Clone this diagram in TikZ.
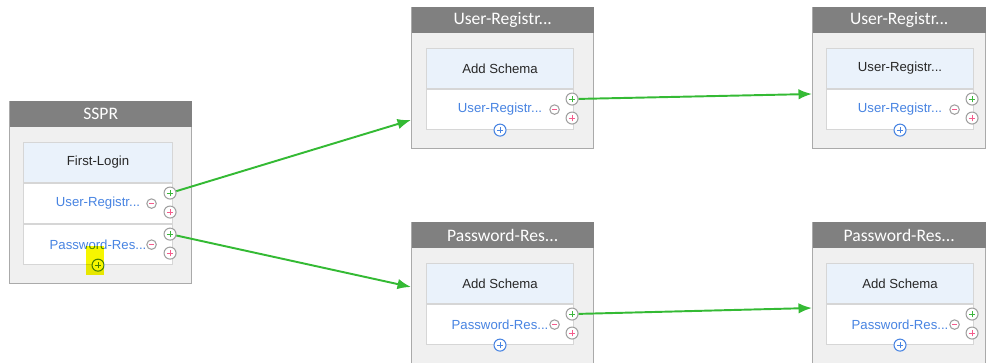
\documentclass[tikz,border=0pt]{standalone}
\usepackage{fontspec}
\setmainfont{Liberation Sans}
\newfontfamily\headfont{Carlito}
\usepackage{xcolor}
\usetikzlibrary{arrows.meta,positioning,calc}
\definecolor{headgray}{RGB}{128,128,128}
\definecolor{cardfill}{RGB}{240,240,240}
\definecolor{cardline}{RGB}{170,170,170}
\definecolor{rowline}{RGB}{214,214,214}
\definecolor{rowblue}{RGB}{234,242,251}
\definecolor{linkblue}{RGB}{72,132,226}
\definecolor{textdark}{RGB}{40,40,40}
\definecolor{flowgreen}{RGB}{52,186,52}
\definecolor{portring}{RGB}{160,160,160}
\definecolor{portgreen}{RGB}{60,182,60}
\definecolor{portpink}{RGB}{245,92,140}
\definecolor{hlyellow}{RGB}{246,246,0}

\begin{document}
\begin{tikzpicture}[
    >=Latex,
    card/.style={
        rectangle,
        draw=cardline,
        fill=cardfill,
        line width=0.8pt,
        anchor=north west,
        minimum width=3.64cm,
        inner sep=0pt
    },
    cardhead/.style={
        rectangle,
        fill=headgray,
        text=white,
        anchor=north,
        minimum width=3.64cm,
        minimum height=0.52cm,
        inner sep=0pt,
        font=\headfont\fontsize{10}{12}\selectfont
    },
    titlerow/.style={
        rectangle,
        draw=rowline,
        fill=rowblue,
        line width=0.6pt,
        anchor=north west,
        minimum width=2.94cm,
        minimum height=0.8cm,
        inner sep=0pt,
        text=textdark,
        font=\fontsize{7.5}{9}\selectfont
    },
    itemrow/.style={
        rectangle,
        draw=rowline,
        fill=white,
        line width=0.6pt,
        minimum width=2.94cm,
        minimum height=0.8cm,
        inner sep=0pt,
        text=linkblue,
        font=\fontsize{7.5}{9}\selectfont
    },
    plussign/.style={
        path picture={
            \draw[#1, line width=0.6pt]
                ([xshift=-0.065cm]path picture bounding box.center) --
                ([xshift=0.065cm]path picture bounding box.center);
            \draw[#1, line width=0.6pt]
                ([yshift=-0.065cm]path picture bounding box.center) --
                ([yshift=0.065cm]path picture bounding box.center);
        }
    },
    minussign/.style={
        path picture={
            \draw[#1, line width=0.6pt]
                ([xshift=-0.045cm]path picture bounding box.center) --
                ([xshift=0.045cm]path picture bounding box.center);
        }
    },
    port/.style={
        circle,
        draw=portring,
        fill=white,
        line width=0.6pt,
        minimum size=0.24cm,
        inner sep=0pt
    },
    outport/.style={port, plussign=portgreen},
    newport/.style={port, plussign=portpink},
    delport/.style={port, minimum size=0.19cm, minussign=portpink},
    childport/.style={port, draw=linkblue, plussign=linkblue},
    highlight/.style={
        fill=hlyellow,
        blend mode=multiply
    },
    flow/.style={
        -{Latex[length=0.27cm,width=0.21cm]},
        line width=1.1pt,
        draw=flowgreen
    }
]
\useasboundingbox (0,0) rectangle (19.74,7.24);
\clip (0,0) rectangle (19.74,7.24);

% SSPR
\node[card, minimum height=3.64cm] (sspr) at (0.18,5.22) {};
\node[cardhead] (sspr-head) at (sspr.north) {SSPR};
\node[titlerow, minimum width=2.98cm] (sspr-title) at ($(sspr.north west)+(0.28,-0.82)$) {First-Login};
\node[itemrow, minimum width=2.98cm, below=0pt of sspr-title] (sspr-ur) {User-Registr...};
\node[itemrow, minimum width=2.98cm, below=0pt of sspr-ur] (sspr-pr) {Password-Res...};
\node[outport] (sspr-ur-out) at ($(sspr-ur.north east)+(-0.06,-0.2)$) {};
\node[newport] (sspr-ur-new) at ($(sspr-ur.north east)+(-0.06,-0.58)$) {};
\node[delport] (sspr-ur-del) at ($(sspr-ur.east)+(-0.43,0)$) {};
\node[outport] (sspr-pr-out) at ($(sspr-pr.north east)+(-0.06,-0.2)$) {};
\node[newport] (sspr-pr-new) at ($(sspr-pr.north east)+(-0.06,-0.58)$) {};
\node[delport] (sspr-pr-del) at ($(sspr-pr.east)+(-0.43,0)$) {};
\node[childport] (sspr-child) at (sspr-pr.south) {};
\fill[highlight] ($(sspr-child)+(-0.24,-0.2)$) rectangle ($(sspr-child)+(0.12,0.38)$);

% User-Registr... (middle)
\node[card, minimum height=2.82cm] (ureg1) at (8.22,7.10) {};
\node[cardhead] (ureg1-head) at (ureg1.north) {User-Registr...};
\node[titlerow] (ureg1-title) at ($(ureg1.north west)+(0.30,-0.82)$) {Add Schema};
\node[itemrow, below=0pt of ureg1-title] (ureg1-ur) {User-Registr...};
\node[outport] (ureg1-ur-out) at ($(ureg1-ur.north east)+(-0.04,-0.2)$) {};
\node[newport] (ureg1-ur-new) at ($(ureg1-ur.north east)+(-0.04,-0.58)$) {};
\node[delport] (ureg1-ur-del) at ($(ureg1-ur.east)+(-0.39,0)$) {};
\node[childport] (ureg1-child) at (ureg1-ur.south) {};

% Password-Res... (middle)
\node[card, minimum height=3.0cm] (pres1) at (8.22,2.80) {};
\node[cardhead] (pres1-head) at (pres1.north) {Password-Res...};
\node[titlerow] (pres1-title) at ($(pres1.north west)+(0.30,-0.82)$) {Add Schema};
\node[itemrow, below=0pt of pres1-title] (pres1-pr) {Password-Res...};
\node[outport] (pres1-pr-out) at ($(pres1-pr.north east)+(-0.04,-0.2)$) {};
\node[newport] (pres1-pr-new) at ($(pres1-pr.north east)+(-0.04,-0.58)$) {};
\node[delport] (pres1-pr-del) at ($(pres1-pr.east)+(-0.39,0)$) {};
\node[childport] (pres1-child) at (pres1-pr.south) {};

% User-Registr... (right)
\node[card, minimum width=3.46cm, minimum height=2.82cm] (ureg2) at (16.24,7.10) {};
\node[cardhead, minimum width=3.46cm] (ureg2-head) at (ureg2.north) {User-Registr...};
\node[titlerow] (ureg2-title) at ($(ureg2.north west)+(0.28,-0.82)$) {User-Registr...};
\node[itemrow, below=0pt of ureg2-title] (ureg2-ur) {User-Registr...};
\node[outport] (ureg2-ur-out) at ($(ureg2-ur.north east)+(-0.04,-0.2)$) {};
\node[newport] (ureg2-ur-new) at ($(ureg2-ur.north east)+(-0.04,-0.58)$) {};
\node[delport] (ureg2-ur-del) at ($(ureg2-ur.east)+(-0.39,0)$) {};
\node[childport] (ureg2-child) at (ureg2-ur.south) {};

% Password-Res... (right)
\node[card, minimum width=3.46cm, minimum height=3.0cm] (pres2) at (16.24,2.80) {};
\node[cardhead, minimum width=3.46cm] (pres2-head) at (pres2.north) {Password-Res...};
\node[titlerow] (pres2-title) at ($(pres2.north west)+(0.28,-0.82)$) {Add Schema};
\node[itemrow, below=0pt of pres2-title] (pres2-pr) {Password-Res...};
\node[outport] (pres2-pr-out) at ($(pres2-pr.north east)+(-0.04,-0.2)$) {};
\node[newport] (pres2-pr-new) at ($(pres2-pr.north east)+(-0.04,-0.58)$) {};
\node[delport] (pres2-pr-del) at ($(pres2-pr.east)+(-0.39,0)$) {};
\node[childport] (pres2-child) at (pres2-pr.south) {};

\coordinate (ureg1-in) at ($(ureg1.north west)+(0,-2.26)$);
\coordinate (pres1-in) at ($(pres1.north west)+(0,-1.30)$);
\coordinate (ureg2-in) at ($(ureg2.north west)+(0,-1.74)$);
\coordinate (pres2-in) at ($(pres2.north west)+(0,-1.72)$);

\draw[flow] (sspr-ur-out) -- (ureg1-in);
\draw[flow] (sspr-pr-out) -- (pres1-in);
\draw[flow] (ureg1-ur-out) -- (ureg2-in);
\draw[flow] (pres1-pr-out) -- (pres2-in);

\end{tikzpicture}
\end{document}
